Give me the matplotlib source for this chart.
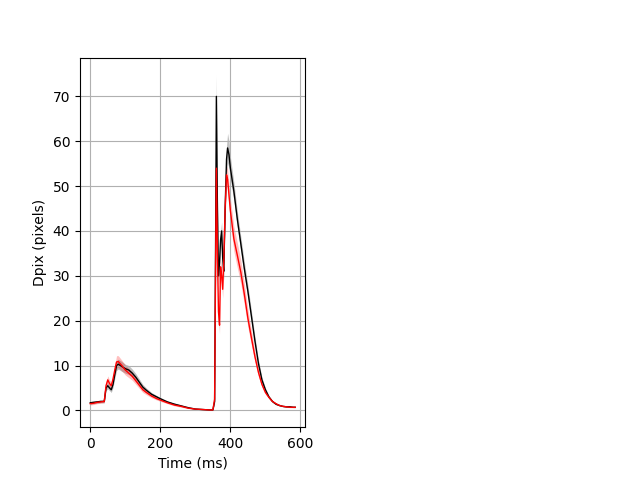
import numpy as np
import matplotlib
matplotlib.use('Agg')
import matplotlib.pyplot as plt

# time axis (ms)
t = [0, 10, 20, 30, 40, 45, 50, 55, 60, 65, 70, 75, 80, 90, 100, 110, 120,
     130, 140, 150, 160, 175, 190, 200, 220, 240, 260, 280, 300, 320, 340,
     350, 355, 358, 360, 363, 366, 369, 372, 375, 378, 381, 385, 389, 392,
     396, 400, 410, 420, 430, 440, 450, 460, 470, 480, 490, 500, 510, 520,
     530, 540, 550, 560, 570, 580, 585]

# mean displacement, black condition
black_mean = [1.7, 1.8, 1.9, 2.0, 2.0, 5.0, 5.5, 5.0, 4.6, 5.8, 8.0, 10.0,
              10.3, 9.8, 9.3, 9.0, 8.3, 7.4, 6.3, 5.2, 4.5, 3.6, 3.0, 2.6,
              1.9, 1.4, 1.0, 0.6, 0.3, 0.2, 0.1, 0.1, 2.0, 40.0, 70.0, 45.0,
              30.0, 33.0, 38.0, 40.0, 34.0, 31.0, 45.0, 56.0, 58.5, 57.0,
              54.0, 48.8, 42.5, 37.0, 31.5, 26.5, 21.0, 15.5, 10.5, 6.8, 4.6,
              3.0, 2.0, 1.4, 1.1, 0.9, 0.8, 0.8, 0.7, 0.7]
black_sd = [0.3, 0.3, 0.3, 0.3, 0.3, 0.6, 0.7, 0.6, 0.6, 0.7, 0.9, 1.1, 1.1,
            1.1, 1.0, 1.0, 0.9, 0.8, 0.7, 0.6, 0.5, 0.4, 0.3, 0.3, 0.2, 0.2,
            0.2, 0.1, 0.1, 0.1, 0.1, 0.1, 0.5, 3.0, 4.9, 3.0, 2.0, 2.0, 2.0,
            2.0, 2.0, 2.0, 2.5, 3.0, 3.3, 3.0, 2.5, 2.0, 1.8, 1.6, 1.5, 1.4,
            1.2, 1.0, 0.8, 0.6, 0.4, 0.3, 0.2, 0.2, 0.1, 0.1, 0.1, 0.1, 0.1,
            0.1]

# mean displacement, red condition
red_mean = [1.5, 1.6, 1.8, 1.9, 2.0, 5.5, 6.8, 6.0, 5.5, 7.0, 9.0, 10.8, 10.9,
            10.0, 9.0, 8.3, 7.6, 6.6, 5.6, 4.6, 4.0, 3.2, 2.6, 2.3, 1.7, 1.2,
            0.9, 0.5, 0.3, 0.2, 0.1, 0.1, 2.5, 35.0, 54.0, 35.0, 22.0, 19.0,
            32.0, 30.0, 27.0, 33.0, 45.0, 52.5, 51.5, 48.0, 44.5, 38.2, 34.5,
            30.7, 25.8, 20.5, 16.2, 12.0, 8.5, 5.8, 4.0, 2.9, 2.0, 1.5, 1.1,
            0.9, 0.8, 0.7, 0.7, 0.7]
red_sd = [0.3, 0.3, 0.3, 0.3, 0.3, 0.8, 0.9, 0.8, 0.8, 0.9, 1.1, 1.4, 1.3,
          1.2, 1.1, 1.0, 0.9, 0.8, 0.7, 0.6, 0.5, 0.4, 0.3, 0.3, 0.2, 0.2, 0.2,
          0.1, 0.1, 0.1, 0.1, 0.1, 0.5, 2.5, 3.0, 2.5, 2.0, 2.0, 2.0, 2.0, 2.0,
          2.0, 2.0, 2.0, 2.2, 2.5, 2.7, 2.8, 2.8, 2.6, 2.3, 2.0, 1.6, 1.2, 0.9,
          0.6, 0.4, 0.3, 0.2, 0.2, 0.1, 0.1, 0.1, 0.1, 0.1, 0.1]

t = np.array(t)
bm, bs = np.array(black_mean), np.array(black_sd)
rm, rs = np.array(red_mean), np.array(red_sd)

fig = plt.figure(figsize=(6.4, 4.8), dpi=100)
ax = fig.add_subplot(1, 2, 1)

ax.fill_between(t, bm - bs, bm + bs, color='k', alpha=0.25, linewidth=0)
ax.plot(t, bm, color='k', linewidth=1)
ax.fill_between(t, rm - rs, rm + rs, color='r', alpha=0.25, linewidth=0)
ax.plot(t, rm, color='r', linewidth=1)

ax.grid(True)
ax.set_xlabel('Time (ms)')
ax.set_ylabel('Dpix (pixels)')

fig.savefig('out.png', dpi=100)
